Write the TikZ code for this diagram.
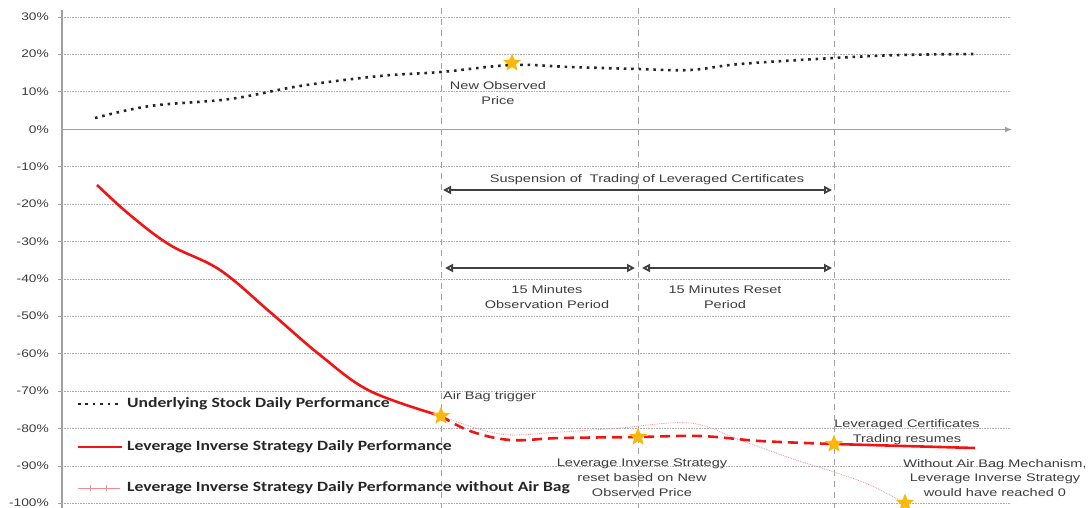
\documentclass[tikz,border=0pt]{standalone}
\usepackage{fontspec}
\setmainfont[FakeStretch=1.25]{Liberation Sans}
\newfontfamily\annfont[FakeStretch=1.32]{Liberation Sans}
\newfontfamily\legfont[FakeStretch=1.24]{Carlito}
\usetikzlibrary{shapes.geometric,arrows.meta}
\definecolor{gridc}{RGB}{175,175,175}
\definecolor{axisc}{RGB}{160,160,160}
\definecolor{starc}{RGB}{250,185,10}
\definecolor{redc}{RGB}{240,20,20}
\definecolor{pinkc}{RGB}{240,140,150}
\definecolor{txtc}{RGB}{60,60,60}
\tikzset{
  gridline/.style={gridc, densely dotted, line width=0.6pt},
  vline/.style={axisc, dash pattern=on 6pt off 5pt, line width=0.8pt},
  starmark/.style={star, star points=5, star point ratio=2.3, fill=starc, draw=none, minimum size=19pt, inner sep=0pt},
  ticklab/.style={anchor=east, font=\fontsize{11}{12}\selectfont, text=txtc, inner sep=0pt},
  annot/.style={font=\annfont\fontsize{11}{14.8}\selectfont, text=txtc, align=center, inner sep=0pt},
  legtext/.style={anchor=west, font=\legfont\bfseries\fontsize{14.2}{16}\selectfont, text=black!85, inner sep=0pt},
  dblarrow/.style={{Stealth[length=8pt,width=8pt,inset=0pt,open,line width=1.8pt]}-{Stealth[length=8pt,width=8pt,open,inset=0pt,line width=1.8pt]}, line width=1.8pt, black!75},
  stockline/.style={black!85, line width=2.6pt, dash pattern=on 2.6pt off 4.8pt},
  redline/.style={redc, line width=2.6pt},
}
\begin{document}
\begin{tikzpicture}[x=1pt,y=-1pt]
\useasboundingbox (0,0) rectangle (1091,508);
% horizontal gridlines and tick labels
\foreach \v/\yy in {30/17,20/54,10/91.5,-10/166.5,-20/204,-30/241.5,-40/279,-50/316,-60/353.5,-70/391,-80/428.5,-90/466,-100/503}{
  \draw[gridline] (62,\yy) -- (1010,\yy);
  \node[ticklab] at (49,\yy) {\v\%};
}
\node[ticklab] at (49,129.5) {0\%};
% axes
\draw[axisc, line width=1.2pt] (62,10) -- (62,508);
\draw[axisc, line width=1.2pt, -{Latex[length=7pt,width=6pt]}] (62,129.5) -- (1012,129.5);
\foreach \yy in {17,54,91.5,166.5,204,241.5,279,316,353.5,391,428.5,466,503}{
  \draw[axisc, line width=0.8pt] (58,\yy) -- (62,\yy);
}
% vertical dashed lines
\foreach \xx in {441,638,834}{
  \draw[vline] (\xx,8) -- (\xx,508);
}
% underlying stock curve
\draw[stockline] plot[smooth, tension=0.6] coordinates {(95,118) (150,106) (230,99) (300,86) (380,76) (441,72) (512,65) (570,67) (638,69) (690,70) (740,64) (834,58) (900,55) (975,54)};
% pink curve without air bag
\draw[pinkc, line width=0.8pt, densely dotted] plot[smooth, tension=0.6] coordinates {(441,416) (500,434) (560,432) (620,428) (690,423) (740,440) (790,458) (834,472) (870,485) (905,503)};
% red strategy curve solid
\draw[redline] plot[smooth, tension=0.6] coordinates {(97,185) (130,215) (170,245) (220,270) (270,312) (320,355) (370,391) (441,416)};
% red dashed
\draw[redline, dash pattern=on 10pt off 6pt] plot[smooth, tension=0.6] coordinates {(441,416) (470,431) (510,440) (560,438) (638,437) (700,436) (760,441) (834,444)};
\draw[redline] (834,444) -- (975,448);
% stars
\node[starmark] (sNew) at (512,63) {};
\node[starmark] (sAir) at (441,416) {};
\node[starmark] (sReset) at (638,437) {};
\node[starmark] (sResume) at (834,444) {};
\node[starmark] (sZero) at (905,503) {};
% coordinates for arrows
\coordinate (a1) at (443,190);
\coordinate (a2) at (832,190);
\coordinate (b1) at (445,268);
\coordinate (b2) at (635,268);
\coordinate (c1) at (642,268);
\coordinate (c2) at (832,268);
\draw[dblarrow] (a1) -- (a2);
\draw[dblarrow] (b1) -- (b2);
\draw[dblarrow] (c1) -- (c2);
% annotations
\node[annot] (tSusp) at (647,180) {Suspension of \ Trading of Leveraged Certificates};
\node[annot] (tObs) at (547,297) {15 Minutes\\Observation Period};
\node[annot] (tRes) at (725,297) {15 Minutes Reset\\Period};
\node[annot] (tNew) at (498,93) {New Observed\\Price};
\node[annot, anchor=west] (tAir) at (443,397) {Air Bag trigger};
\node[annot] (tReset) at (642,478) {Leverage Inverse Strategy\\reset based on New\\Observed Price};
\node[annot] (tResume) at (907,432) {Leveraged Certificates\\Trading resumes};
\node[annot] (tZero) at (995,478) {Without Air Bag Mechanism,\\Leverage Inverse Strategy\\would have reached 0};
% legend
\coordinate (l1a) at (78,404); \coordinate (l1b) at (121,404);
\draw[stockline] (l1a) -- (l1b);
\node[legtext] (lg1) at (127,404) {Underlying Stock Daily Performance};
\coordinate (l2a) at (78,447); \coordinate (l2b) at (122,447);
\draw[redline] (l2a) -- (l2b);
\node[legtext] (lg2) at (127,447) {Leverage Inverse Strategy Daily Performance};
\coordinate (l3a) at (78,488); \coordinate (l3b) at (120,488);
\draw[pinkc, line width=0.8pt] (l3a) -- (l3b);
\foreach \xx in {90,106}{\draw[pinkc, line width=0.6pt] (\xx,485) -- (\xx,491);}
\node[legtext] (lg3) at (127,488) {Leverage Inverse Strategy Daily Performance without Air Bag};
\end{tikzpicture}
\end{document}
